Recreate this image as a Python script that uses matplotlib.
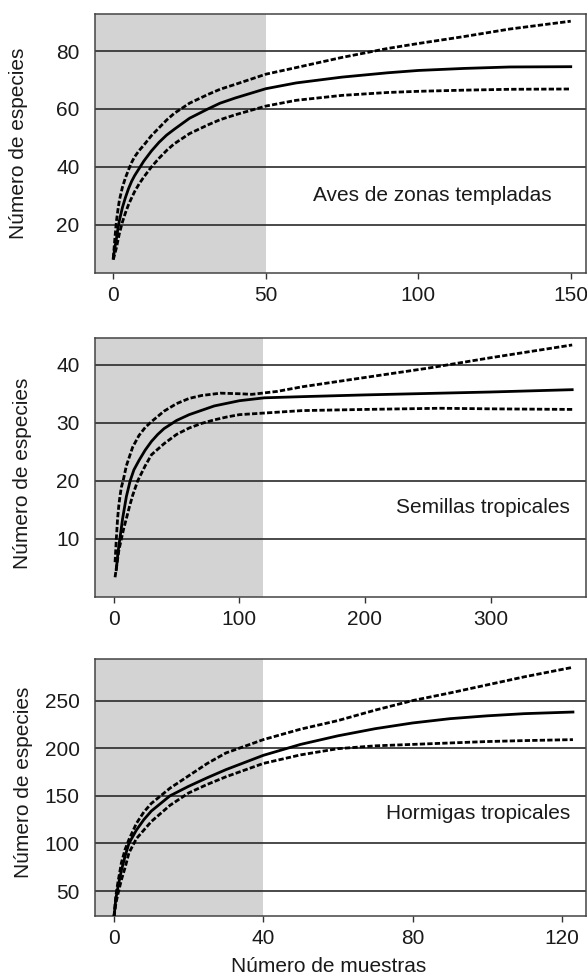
import matplotlib
matplotlib.use("Agg")
import matplotlib.pyplot as plt

plt.rcParams["font.family"] = ["Liberation Sans", "DejaVu Sans"]

# --- Aves de zonas templadas ---
aves_x = [0, 0.5, 1, 1.5, 2, 3, 4, 5, 6, 7, 8.5, 10, 12.5, 15, 17.5, 20, 25, 31, 35, 40,
          50, 60, 75, 90, 100, 115, 130, 150]
aves_mean = [8.5, 12, 15, 18.5, 21.5, 26, 29.5, 32.5, 35, 37, 39.5, 42, 45.5, 48.5, 51, 53, 56.8, 60, 62, 63.8,
             67, 69, 71, 72.5, 73.3, 74, 74.5, 74.6]
aves_upper = [8.5, 15, 21, 25, 28.5, 33, 36.3, 39, 41.5, 43.5, 45.7, 47.5, 50.8, 53.5, 56.2, 58.5, 62, 65, 66.8, 68.5,
              72, 74.3, 77.8, 80.9, 82.6, 85, 87.6, 90.3]
aves_lower = [8, 10, 12, 14.5, 17, 21, 24.2, 27, 29.3, 31.5, 34.2, 36.5, 40, 43, 45.7, 48, 51.5, 54.5, 56.3, 58,
              61, 63, 64.7, 65.7, 66.1, 66.5, 66.8, 66.9]

# --- Semillas tropicales ---
sem_x_mean = [2, 3, 4, 5, 7, 10, 13, 16, 20, 25, 30, 35, 40, 50, 60, 80, 100, 120, 150, 200, 260, 300, 365]
sem_mean = [4.7, 7, 8.8, 10.3, 13.5, 17.3, 20, 21.9, 23.5, 25.3, 26.8, 28, 29, 30.4, 31.4, 32.9, 33.8, 34.3,
            34.5, 34.8, 35.1, 35.3, 35.7]
sem_x_upper = [1, 1.5, 2, 3, 4, 5, 6, 7.4, 10, 15, 20, 25, 30, 40, 50, 60, 70, 85, 100, 110, 130, 150,
               200, 250, 300, 365]
sem_upper = [6, 8, 10, 13.5, 15.8, 17.5, 18.9, 20, 22.6, 25.8, 27.8, 29.2, 30.2, 32.0, 33.3, 34.2, 34.7, 35.1,
             35.0, 34.9, 35.4, 36.2, 37.8, 39.4, 41.2, 43.4]
sem_x_lower = [1, 2, 3, 4, 6, 8, 10, 12.5, 15, 19, 25, 30, 40, 50, 60, 70, 80, 90, 100, 150, 200, 260, 300, 365]
sem_lower = [3.4, 5, 6.5, 8, 10, 11.9, 13.5, 15.6, 17.5, 20, 22.6, 24.5, 26.4, 28.0, 29.1, 29.9, 30.5, 31,
             31.4, 32.1, 32.3, 32.5, 32.4, 32.3]

# --- Hormigas tropicales ---
horm_x = [0, 0.5, 1, 2, 3, 4, 6, 8, 10, 15, 20, 25, 30, 40, 50, 60, 70, 80, 90, 100, 110, 123]
horm_mean = [23, 42, 53, 72, 87, 100, 114, 125, 134, 150, 160, 169, 177.5, 192.5, 204, 213, 220.5, 226.5,
             231, 234, 236.3, 238]
horm_upper = [23, 45, 58, 80, 94, 104, 121, 133, 142, 158, 171, 184, 195, 209, 220, 229, 240, 250, 258,
              266.5, 275, 285]
horm_lower = [23, 37, 46, 62, 75, 90, 105, 114, 123, 140, 153, 162, 170, 184, 193, 199.5, 202.5, 204,
              205.5, 207, 208, 209]

titles = ["Aves de zonas templadas", "Semillas tropicales", "Hormigas tropicales"]
shade_end = [50, 119, 40]
xticks = [[0, 50, 100, 150], [0, 100, 200, 300], [0, 40, 80, 120]]
yticks = [[20, 40, 60, 80], [10, 20, 30, 40], [50, 100, 150, 200, 250]]
xlims = [(-6, 155), (-15, 376), (-5.1, 126.5)]
ylims = [(3.4, 92.8), (0, 44.6), (23.8, 293.7)]

series = [
    ((aves_x, aves_mean), (aves_x, aves_upper), (aves_x, aves_lower)),
    ((sem_x_mean, sem_mean), (sem_x_upper, sem_upper), (sem_x_lower, sem_lower)),
    ((horm_x, horm_mean), (horm_x, horm_upper), (horm_x, horm_lower)),
]

positions = [
    [0.1618, 0.7203, 0.8365, 0.2654],
    [0.1618, 0.3883, 0.8365, 0.2654],
    [0.1618, 0.0615, 0.8365, 0.2633],
]
title_pos = [(0.688, 0.301, "center"), (0.967, 0.344, "right"), (0.967, 0.397, "right")]
ylabel_pos = [(-0.136, 0.50), (-0.128, 0.477), (-0.126, 0.52)]

fig = plt.figure(figsize=(5.87, 9.76), dpi=100)

for i in range(3):
    ax = fig.add_axes(positions[i])
    ax.set_xlim(*xlims[i])
    ax.set_ylim(*ylims[i])
    ax.axvspan(xlims[i][0], shade_end[i], color="#d3d3d3", lw=0, zorder=0)
    ax.set_axisbelow(True)
    ax.grid(axis="y", color="#2a2a2a", lw=1.2)
    ax.grid(axis="x", visible=False)

    (xm, ym), (xu, yu), (xl, yl) = series[i]
    ax.plot(xm, ym, color="black", lw=2.0, zorder=3)
    ax.plot(xu, yu, color="black", lw=2.0, dashes=(1.9, 0.8), zorder=3)
    ax.plot(xl, yl, color="black", lw=2.0, dashes=(1.9, 0.8), zorder=3)

    ax.set_xticks(xticks[i])
    ax.set_yticks(yticks[i])
    ax.tick_params(axis="y", length=0, pad=11, labelsize=15, labelcolor="#1a1a1a")
    ax.tick_params(axis="x", length=4.5, width=1.0, pad=5, labelsize=15,
                   labelcolor="#1a1a1a", color="#333333")
    for sp in ax.spines.values():
        sp.set_color("#444444")
        sp.set_linewidth(1.1)

    ax.set_ylabel("Número de especies", fontsize=15, color="#1a1a1a")
    ax.yaxis.set_label_coords(*ylabel_pos[i])

    tx, ty, ha = title_pos[i]
    ax.text(tx, ty, titles[i], transform=ax.transAxes, ha=ha, va="center",
            fontsize=15, color="#1a1a1a")

    if i == 2:
        ax.set_xlabel("Número de muestras", fontsize=15, color="#1a1a1a")
        ax.xaxis.set_label_coords(0.475, -0.16)

fig.savefig("out.png", dpi=100)
